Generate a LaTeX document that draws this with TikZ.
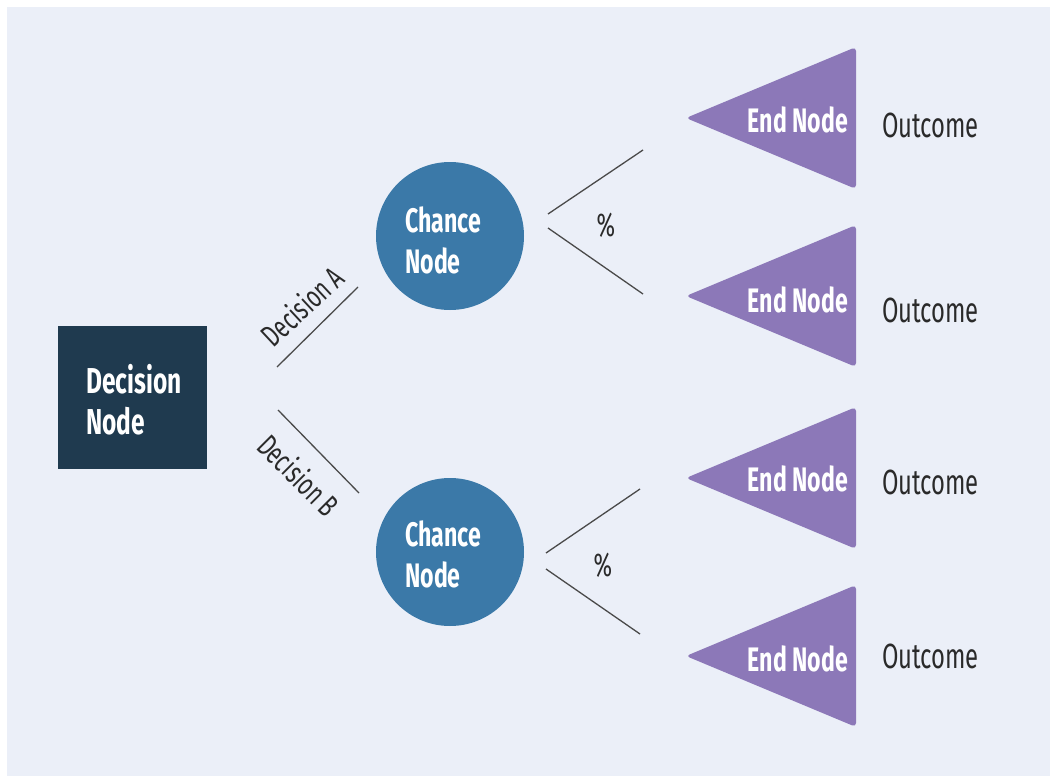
\documentclass[tikz,border=0pt]{standalone}
\usepackage{fontspec}
\setmainfont{Fira Sans}[FakeStretch=0.68]
\definecolor{bgc}{HTML}{EBEFF8}
\definecolor{navy}{HTML}{1F3A4F}
\definecolor{cblue}{HTML}{3B79A8}
\definecolor{purp}{HTML}{8C78B8}
\definecolor{ink}{HTML}{2A2A2A}
\tikzset{
  wtext/.style={text=white,font=\bfseries\fontsize{34}{41}\selectfont,inner sep=0pt},
  otext/.style={text=ink,font=\fontsize{35}{40}\selectfont,inner sep=0pt,anchor=west},
  dtext/.style={text=ink,font=\fontsize{31}{34}\selectfont,inner sep=0pt},
  branch/.style={draw=ink!85,line width=1.3pt},
  endtri/.style={fill=purp,rounded corners=4pt},
}
\begin{document}
\begin{tikzpicture}[x=1pt,y=-1pt]
\useasboundingbox (0,0) rectangle (1050,776);
\fill[white] (0,0) rectangle (1050,776);
\fill[bgc] (7,7) rectangle (1050,776);
% decision node
\node[fill=navy,minimum width=149pt,minimum height=143pt,inner sep=0pt] (dec) at (132.5,397.5) {};
\node[wtext,align=left,anchor=west,font=\bfseries\fontsize{36}{41}\selectfont] (dectext) at (86,400) {Decision\\Node};
% chance nodes
\node[circle,fill=cblue,minimum size=148pt,inner sep=0pt] (ca) at (450,236) {};
\node[circle,fill=cblue,minimum size=148pt,inner sep=0pt] (cb) at (450,552) {};
\node[wtext,align=left,anchor=west] (catext) at (405,240) {Chance\\Node};
\node[wtext,align=left,anchor=west] (cbtext) at (405,554) {Chance\\Node};
% decision branches
\coordinate (da1) at (277,367); \coordinate (da2) at (358,287);
\coordinate (db1) at (278,410); \coordinate (db2) at (359,493);
\draw[branch] (da1) -- (da2);
\draw[branch] (db1) -- (db2);
\node[dtext,rotate=43] (dla) at (302,306) {Decision A};
\node[dtext,rotate=-45] (dlb) at (299,475) {Decision B};
% chance branches
\coordinate (a1) at (548,214); \coordinate (a2) at (643,150);
\coordinate (a3) at (548,228); \coordinate (a4) at (643,294);
\coordinate (b1) at (546,553); \coordinate (b2) at (640,489);
\coordinate (b3) at (546,569); \coordinate (b4) at (640,634);
\draw[branch] (a1) -- (a2);
\draw[branch] (a3) -- (a4);
\draw[branch] (b1) -- (b2);
\draw[branch] (b3) -- (b4);
\node[dtext,font=\fontsize{33}{36}\selectfont] (pa) at (606,225) {\%};
\node[dtext,font=\fontsize{33}{36}\selectfont] (pb) at (603,565) {\%};
% end nodes
\foreach \n/\y/\ty/\oy in {1/118/120/125, 2/296/300/310, 3/478/479/482, 4/656/659/656}{
  \fill[endtri] (856,\y-71) -- (686,\y) -- (856,\y+71) -- cycle;
  \node[wtext,anchor=east] (end\n) at (848,\ty) {End Node};
  \node[otext] (out\n) at (882,\oy) {Outcome};
}
\end{tikzpicture}
\end{document}
